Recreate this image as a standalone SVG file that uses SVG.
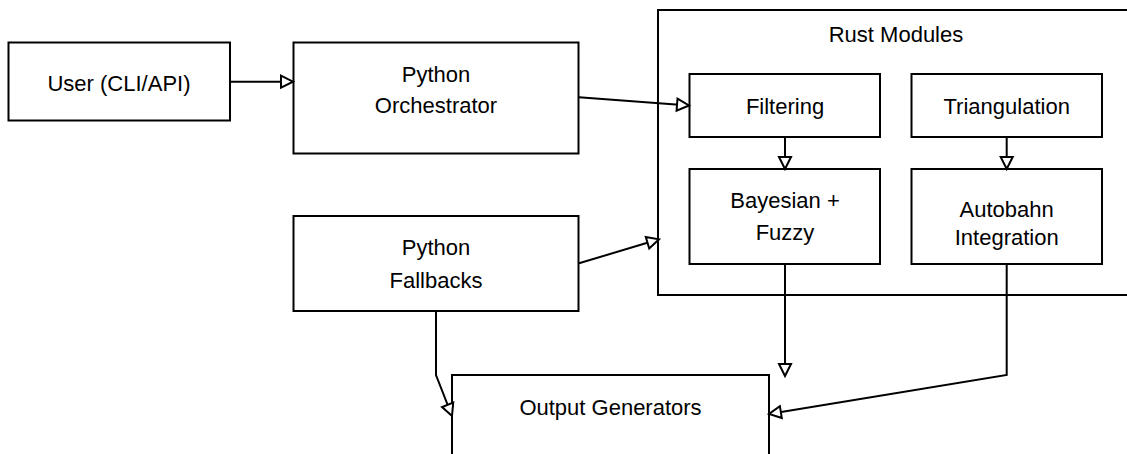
<svg xmlns="http://www.w3.org/2000/svg" width="1127" height="454" viewBox="0 0 1127 454">
  <style>
    .box { fill: #ffffff; stroke: #000000; stroke-width: 2; }
    .lbl { font-family: "Liberation Sans", Arial, sans-serif; font-size: 22px; fill: #000000; text-anchor: middle; }
    .edge { fill: none; stroke: #000000; stroke-width: 2; marker-end: url(#tri); }
  </style>
  <defs>
    <marker id="tri" markerUnits="userSpaceOnUse" markerWidth="16" markerHeight="16" refX="13" refY="6.5" orient="auto" overflow="visible">
      <path d="M1,0.5 L13,6.5 L1,12.5 Z" fill="#ffffff" stroke="#000000" stroke-width="2" stroke-linejoin="miter"/>
    </marker>
  </defs>
  <rect width="1127" height="454" fill="#ffffff"/>

  <!-- container for the native modules -->
  <g id="rust-modules">
    <rect class="box" x="658" y="10" width="520" height="285"/>
    <text class="lbl" x="896" y="41.7">Rust Modules</text>
  </g>

  <g id="user">
    <rect class="box" x="8.5" y="42.5" width="221.5" height="78"/>
    <text class="lbl" x="119" y="90.7">User (CLI/API)</text>
  </g>

  <g id="python-orchestrator">
    <rect class="box" x="293.5" y="42.5" width="285" height="111"/>
    <text class="lbl" x="436" y="81.7">Python</text>
    <text class="lbl" x="436" y="113.3">Orchestrator</text>
  </g>

  <g id="python-fallbacks">
    <rect class="box" x="293.5" y="216" width="285" height="95"/>
    <text class="lbl" x="436" y="255">Python</text>
    <text class="lbl" x="436" y="287.7">Fallbacks</text>
  </g>

  <g id="filtering">
    <rect class="box" x="689.5" y="74" width="190.5" height="63"/>
    <text class="lbl" x="785" y="114">Filtering</text>
  </g>

  <g id="triangulation">
    <rect class="box" x="911.5" y="74" width="190.5" height="63"/>
    <text class="lbl" x="1006.7" y="114">Triangulation</text>
  </g>

  <g id="bayesian-fuzzy">
    <rect class="box" x="689.5" y="169" width="190.5" height="95"/>
    <text class="lbl" x="785" y="208.3">Bayesian +</text>
    <text class="lbl" x="785" y="239.5">Fuzzy</text>
  </g>

  <g id="autobahn">
    <rect class="box" x="911.5" y="169" width="190.5" height="95"/>
    <text class="lbl" x="1006.7" y="217">Autobahn</text>
    <text class="lbl" x="1006.7" y="245">Integration</text>
  </g>

  <g id="output-generators">
    <rect class="box" x="452" y="375" width="317" height="100"/>
    <text class="lbl" x="610.5" y="415">Output Generators</text>
  </g>

  <g id="connectors">
    <path class="edge" d="M230,81.7 L293,81.7"/>
    <path class="edge" d="M579,97.3 L689,105.5"/>
    <path class="edge" d="M579,263.3 L659,239.3"/>
    <path class="edge" d="M785,137 L785,169"/>
    <path class="edge" d="M1006.7,137 L1006.7,169"/>
    <path class="edge" d="M785,264 L785,376"/>
    <path class="edge" d="M1006.7,264 L1006.7,375 L769,414"/>
    <path class="edge" d="M436,311 L436,375 L452,416"/>
  </g>
</svg>
